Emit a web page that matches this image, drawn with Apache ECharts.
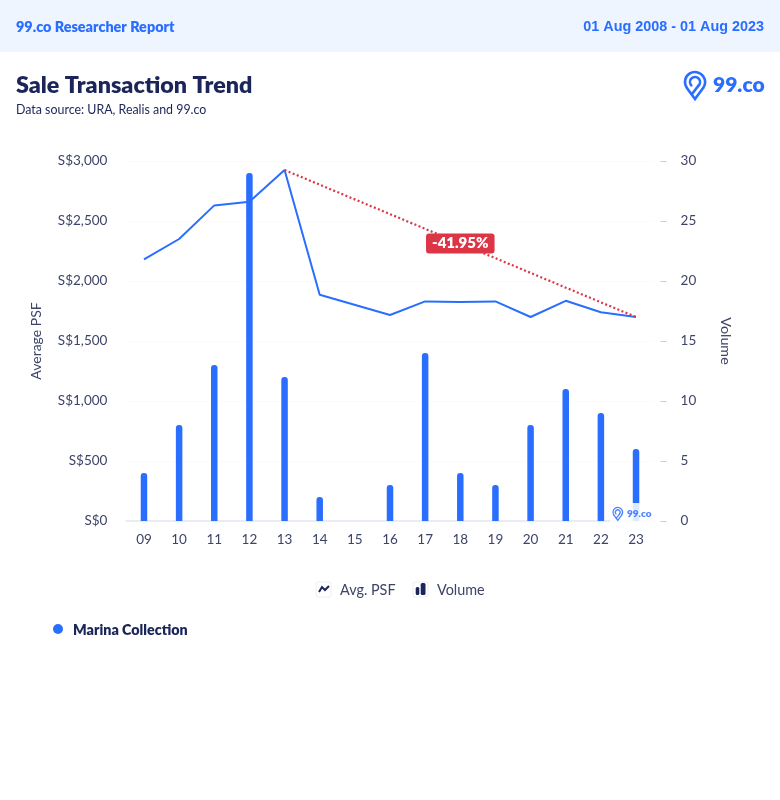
<!DOCTYPE html>
<html><head><meta charset="utf-8">
<style>html,body{margin:0;padding:0;background:#fff}#c{width:780px;height:800px}</style>
<script src="https://cdn.jsdelivr.net/npm/echarts@6/dist/echarts.min.js"></script>
</head><body><div id="c"></div>
<script>
const years = ['09','10','11','12','13','14','15','16','17','18','19','20','21','22','23'];
const avgPsf = [2180,2350,2630,2660,2925,1885,null,1717,1830,1825,1830,1700,1835,1740,1700];
const volume = [4,8,13,29,12,2,0,3,14,4,3,8,11,9,6];
const trendFrom = {year:'13', value:2925};
const trendTo = {year:'23', value:1700};
const trendLabel = '-41.95%';
const NAVY='#1b2559', BLUE='#2a6eff', AX='#3d4468', F='Lato';
function logo(x,y,s,op,z){
  const st={stroke:BLUE,lineWidth:2.6*s,fill:null,opacity:op,lineCap:'round'};
  const cx=x+11*s, cy=y+11*s, tip=[cx,y+28*s];
  return [
    {type:'arc',z,shape:{cx,cy,r:10*s,startAngle:2.55,endAngle:0.6,clockwise:true},style:st},
    {type:'polyline',z,shape:{points:[[cx-8.1*s,cy+6*s],tip,[cx+8.1*s,cy+6*s]]},style:st},
    {type:'arc',z,shape:{cx,cy,r:5*s,startAngle:2.4,endAngle:0.8,clockwise:true},style:st},
    {type:'polyline',z,shape:{points:[[cx+3.5*s,cy+3.6*s],[cx-3*s,y+23*s]]},style:st}
  ];
}
const chart = echarts.init(document.getElementById('c'), null, {renderer:'canvas'});
chart.setOption({
  animation:false,
  backgroundColor:'#fff',
  grid:{left:126.4,right:126.4,top:161,bottom:279},
  title:[
    {text:'99.co Researcher Report',left:11,top:15,textStyle:{fontFamily:F,fontSize:14.4,fontWeight:800,color:BLUE}},
    {text:'01 Aug 2008 - 01 Aug 2023',right:11,top:15,textStyle:{fontFamily:'Liberation Sans',fontSize:14.4,fontWeight:700,color:BLUE}},
    {text:'Sale Transaction Trend',left:11,top:69,textStyle:{fontFamily:F,fontSize:23.3,fontWeight:800,color:NAVY}},
    {text:'Data source: URA, Realis and 99.co',left:11,top:99,textStyle:{fontFamily:F,fontSize:12.4,fontWeight:400,color:NAVY}},
    {text:'Marina Collection',left:68,top:618,textStyle:{fontFamily:F,fontSize:14.3,fontWeight:800,color:NAVY}}
  ],
  graphic:[
    {type:'rect',z:-1,shape:{x:0,y:0,width:780,height:52},style:{fill:'#eef5ff'}},
    {type:'circle',shape:{cx:58,cy:629,r:5},style:{fill:BLUE}},
    ...logo(684,71,1,1,5),
    {type:'text',x:713,y:85,style:{text:'99.co',fontFamily:F,fontSize:21,fontWeight:800,fill:BLUE,verticalAlign:'middle'}},
    {type:'rect',z:9,shape:{x:610,y:503,width:46,height:19},style:{fill:'#fff',opacity:.85}},
    ...logo(612.5,507,.48,.85,10),
    {type:'text',z:10,x:627,y:514,style:{text:'99.co',fontFamily:F,fontSize:10,fontWeight:800,fill:BLUE,opacity:.85,verticalAlign:'middle'}},
    {type:'rect',shape:{x:316,y:582,width:15,height:15,r:2},style:{fill:'#fff',stroke:'#eceef5',lineWidth:1}},
    {type:'polyline',shape:{points:[[319,592],[322,587],[325,590],[329,586]]},style:{stroke:NAVY,lineWidth:2,fill:null}},
    {type:'rect',shape:{x:413,y:582,width:15,height:15,r:2},style:{fill:'#fff',stroke:'#eceef5',lineWidth:1}},
    {type:'rect',shape:{x:415.7,y:587,width:3.6,height:8,r:1.5},style:{fill:NAVY}},
    {type:'rect',shape:{x:420.7,y:583,width:4.8,height:12,r:1.5},style:{fill:NAVY}},
    {type:'text',x:340,y:583,style:{text:'Avg. PSF',fontFamily:F,fontSize:14.4,fill:AX}},
    {type:'text',x:437,y:583,style:{text:'Volume',fontFamily:F,fontSize:14.4,fill:AX}}
  ],
  xAxis:{type:'category',data:years,boundaryGap:true,
    axisLine:{lineStyle:{color:'#eaecf3',width:2}},
    axisTick:{alignWithLabel:true,length:5,lineStyle:{color:'#c9ccd8'}},
    axisLabel:{fontFamily:F,fontSize:13.5,color:AX,margin:12}},
  yAxis:[
    {type:'value',min:0,max:3000,interval:500,name:'Average PSF',nameLocation:'middle',nameGap:83,nameRotate:90,
     nameTextStyle:{fontFamily:F,fontSize:14,color:AX},
     axisLine:{show:false},axisTick:{show:false},
     splitLine:{lineStyle:{color:'#fafbfd'}},
     axisLabel:{fontFamily:F,fontSize:13.5,color:AX,margin:19,padding:[4,0,0,0],formatter:v=>'S$'+v.toLocaleString('en-US')}},
    {type:'value',min:0,max:30,interval:5,name:'Volume',nameLocation:'middle',nameGap:58,nameRotate:-90,offset:7,
     nameTextStyle:{fontFamily:F,fontSize:14.3,color:AX},
     position:'right',axisLine:{show:false},
     axisTick:{show:true,inside:false,length:6,lineStyle:{color:'#c9ccd8'}},
     splitLine:{show:false},
     axisLabel:{fontFamily:F,fontSize:13.5,color:AX,margin:20,padding:[4,0,0,0]}}
  ],
  series:[
    {name:'Volume',type:'bar',yAxisIndex:1,data:volume,barWidth:6.5,z:2,
     itemStyle:{color:BLUE,borderRadius:[3,3,0,0]}},
    {name:'Avg. PSF',type:'line',yAxisIndex:0,data:avgPsf,connectNulls:true,showSymbol:false,z:3,
     lineStyle:{color:BLUE,width:2},itemStyle:{color:BLUE},
     markLine:{silent:true,symbol:'none',z:4,
       lineStyle:{color:'#dc3545',type:[2,2.4],width:2.2},
       label:{show:true,position:'insideMiddle',rotate:0,formatter:trendLabel,fontFamily:F,fontSize:15,fontWeight:800,color:'#fff',
         backgroundColor:'#dc3545',borderRadius:3,padding:[3,6,2,6]},
       data:[[{xAxis:trendFrom.year,yAxis:trendFrom.value},{xAxis:trendTo.year,yAxis:trendTo.value}]]}}
  ]
});
</script></body></html>
